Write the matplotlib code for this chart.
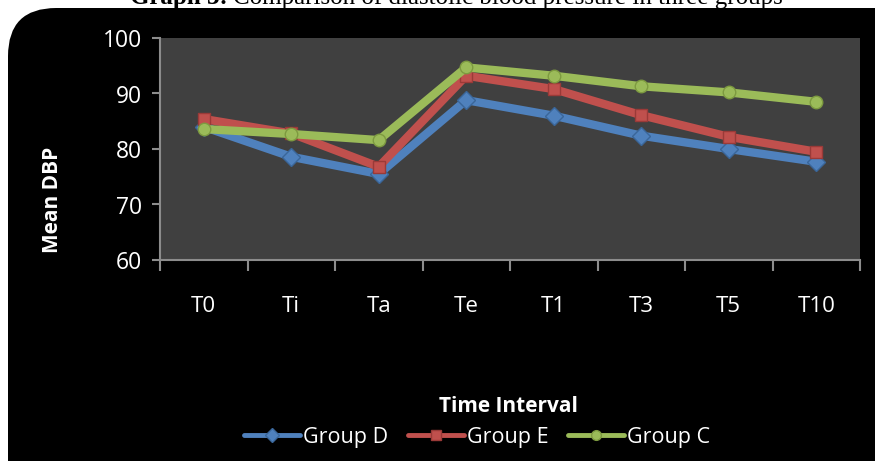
import numpy as np
import matplotlib.pyplot as plt
from matplotlib.patches import FancyBboxPatch

plt.rcParams['font.family'] = ['Open Sans', 'DejaVu Sans']

intervals = ['T0', 'Ti', 'Ta', 'Te', 'T1', 'T3', 'T5', 'T10']
group_d = [84.0, 78.6, 75.5, 88.8, 86.0, 82.4, 80.0, 77.7]
group_e = [85.4, 82.8, 76.8, 93.2, 90.8, 86.1, 82.2, 79.5]
group_c = [83.6, 82.7, 81.6, 94.7, 93.2, 91.3, 90.2, 88.5]

fig = plt.figure(figsize=(8.75, 4.61), dpi=100, facecolor='white')

# black rounded frame behind everything
frame = FancyBboxPatch((8 / 875, -0.2), 1.2, 1 - 8 / 461 + 0.2,
                       boxstyle='round,pad=0,rounding_size=0.055',
                       transform=fig.transFigure, facecolor='black',
                       edgecolor='none', mutation_aspect=875 / 461, zorder=-5)
fig.patches.append(frame)

# title, cut off at the top like in the source
fig.text(228 / 875, 1 - 4 / 461, 'Graph 3:', ha='right', va='baseline',
         fontsize=18, family='Liberation Serif', fontweight='bold', color='black')
fig.text(233 / 875, 1 - 4 / 461, 'Comparison of diastolic blood pressure in three groups',
         ha='left', va='baseline', fontsize=18, family='Liberation Serif', color='black')

ax = fig.add_axes([160 / 875, 1 - 260 / 461, 700 / 875, 222 / 461])
ax.set_facecolor('#404040')

x = np.arange(len(intervals))
series = [('Group D', group_d, '#4F81BD', '#3a6699', 'D', 9),
          ('Group E', group_e, '#C0504D', '#9a3a38', 's', 9),
          ('Group C', group_c, '#9BBB59', '#7d9a40', 'o', 9)]
for name, vals, col, edge, mk, ms in series:
    ax.plot(x, vals, color=col, lw=6, marker=mk, markersize=ms,
            markerfacecolor=col, markeredgecolor=edge, markeredgewidth=1,
            label=name, solid_joinstyle='miter', solid_capstyle='round')

ax.set_xlim(-0.5, len(intervals) - 0.5)
ax.set_ylim(60, 100)
ax.set_yticks([60, 70, 80, 90, 100])
ax.set_xticks(x)
ax.set_xticklabels(intervals)
ax.set_xticks(np.arange(len(intervals) + 1) - 0.5, minor=True)

for s in ['top', 'right']:
    ax.spines[s].set_visible(False)
for s in ['left', 'bottom']:
    ax.spines[s].set_color('#8c8c8c')
    ax.spines[s].set_linewidth(1.5)

ax.tick_params(axis='y', colors='#8c8c8c', labelcolor='white', labelsize=16.5,
               length=6, width=1.5, direction='out', pad=7)
ax.tick_params(axis='x', which='major', length=0, labelcolor='white',
               labelsize=16, pad=26)
ax.tick_params(axis='x', which='minor', colors='#8c8c8c', length=8,
               width=1.5, direction='out')

fig.text(52 / 875, 1 - 200 / 461, 'Mean DBP', rotation=90, ha='center',
         va='center', color='white', fontsize=15, fontweight='bold')
fig.text(508 / 875, 1 - 406 / 461, 'Time Interval', ha='center',
         va='center', color='white', fontsize=15, fontweight='bold')

leg = fig.legend(loc='center', bbox_to_anchor=(477 / 875, 1 - 437 / 461),
                 ncol=3, frameon=False, fontsize=15.5, handlelength=2.6,
                 handletextpad=0.15, columnspacing=0.9, borderpad=0)
for h in leg.legend_handles:
    h.set_linewidth(3.5)
    h.set_markersize(7)
for t in leg.get_texts():
    t.set_color('white')

fig.savefig('out.png', dpi=100, facecolor=fig.get_facecolor())
